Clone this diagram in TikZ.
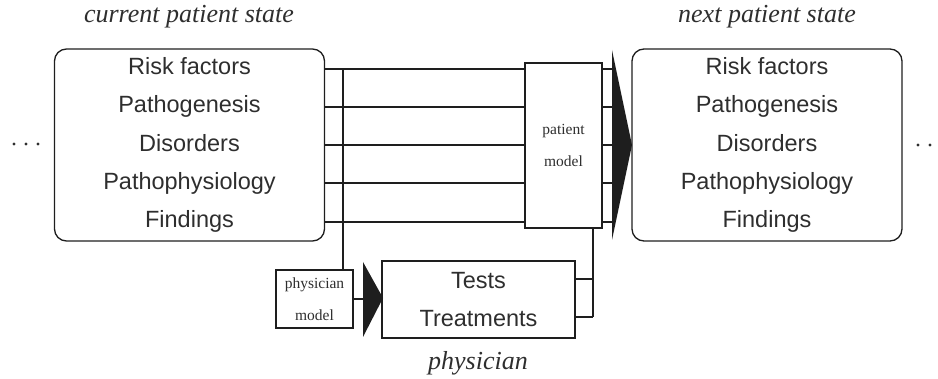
\documentclass[tikz,border=0pt]{standalone}
\usepackage{fontspec}
\setmainfont{Liberation Serif}
\setsansfont{Liberation Sans}
\usetikzlibrary{calc}
\definecolor{ink}{HTML}{1E1E1E}
\definecolor{txt}{HTML}{2E2E2E}
\begin{document}
\begin{tikzpicture}[x=1pt,y=-1pt,
  line/.style={draw=ink,line width=1.3pt},
  statebox/.style={draw=ink,line width=1.3pt,rounded corners=12pt,minimum width=270pt,minimum height=192pt,inner sep=0pt,align=center,font=\fontsize{23.5}{38.4}\selectfont\sffamily,text=txt},
  actbox/.style={draw=ink,line width=1.3pt,minimum width=193pt,minimum height=77pt,inner sep=0pt,align=center,font=\fontsize{23.5}{38}\selectfont\sffamily,text=txt},
  modelbox/.style={draw=ink,line width=1.3pt,minimum width=77pt,inner sep=0pt,align=center,font=\fontsize{15.5}{31.5}\selectfont\rmfamily,text=txt},
  titletext/.style={font=\fontsize{26}{30}\selectfont\rmfamily\itshape,text=txt,inner sep=0pt},
  dotmark/.style={fill=txt}
]
\useasboundingbox (0,0) rectangle (938,379);

% titles
\node[titletext] (tcur) at (189,17) {current patient state};
\node[titletext] (tnext) at (767,17) {next patient state};
\node[titletext] (tphys) at (478,363) {physician};

% state boxes
\node[statebox] (cur) at (189.5,145) {Risk factors\\Pathogenesis\\Disorders\\Pathophysiology\\Findings};
\node[statebox] (nxt) at (767,145) {Risk factors\\Pathogenesis\\Disorders\\Pathophysiology\\Findings};

% models
\node[modelbox,minimum height=165pt] (pm) at (563.5,145.5) {patient\\model};
\node[modelbox,minimum height=58pt] (phm) at (314.5,299) {physician\\model};

% tests / treatments
\node[actbox] (tt) at (478.5,299.5) {Tests\\Treatments};

% level coordinates
\coordinate (r1) at (0,69);
\coordinate (r2) at (0,107);
\coordinate (r3) at (0,145);
\coordinate (r4) at (0,183);
\coordinate (r5) at (0,222);
\coordinate (vl) at (343,69);
\coordinate (vr) at (593,228);
\coordinate (t1) at (0,279);
\coordinate (t2) at (0,317);
\coordinate (bigarrow) at (612,145);
\coordinate (smallarrow) at (363,299);

% horizontal lines state -> patient model -> arrow
\foreach \r in {r1,r2,r3,r4,r5}{
  \draw[line] (cur.east |- \r) -- (pm.west |- \r);
  \draw[line] (pm.east |- \r) -- (bigarrow |- \r);
}

% vertical to physician model
\draw[line] (vl) -- (vl |- phm.north);

% physician model -> small arrow
\draw[line] (phm.east |- smallarrow) -- (smallarrow);
\fill[ink] ($(smallarrow)+(0,-37)$) -- ($(smallarrow)+(20,-1)$) -- ($(smallarrow)+(0,38)$) -- cycle;

% tests -> patient model
\draw[line] (tt.east |- t1) -- (vr |- t1);
\draw[line] (tt.east |- t2) -- (vr |- t2);
\draw[line] (vr |- pm.south) -- (vr |- t2);

% big arrow
\fill[ink] ($(bigarrow)+(0,-95)$) -- ($(bigarrow)+(20,0)$) -- ($(bigarrow)+(0,95)$) -- cycle;

% dots
\foreach \x in {14,26,38}{ \fill[dotmark] (\x,144) circle (1.6pt); }
\foreach \x in {918,930}{ \fill[dotmark] (\x,145) circle (1.6pt); }
\end{tikzpicture}
\end{document}
